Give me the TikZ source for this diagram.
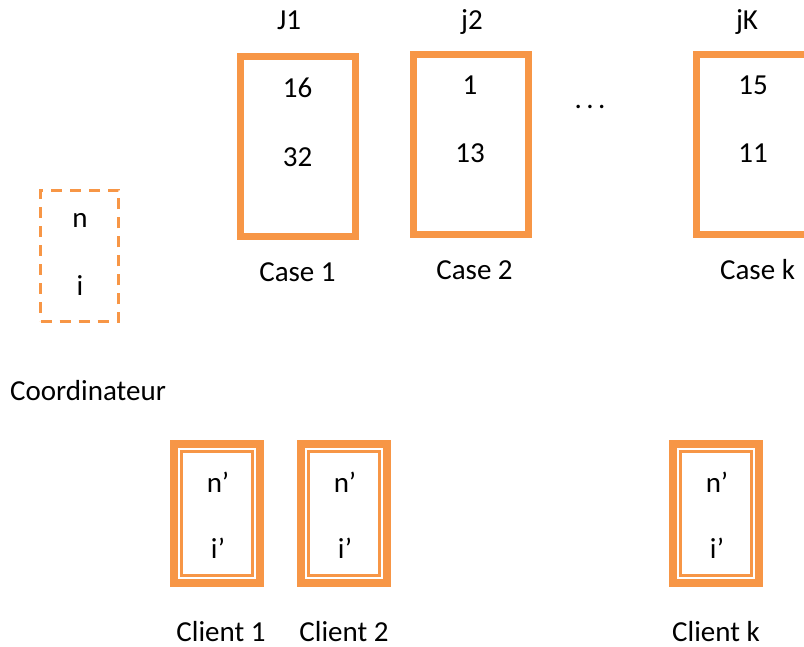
\documentclass[tikz,border=0pt]{standalone}
\usepackage{fontspec}
\setmainfont{Carlito}
\definecolor{boxorange}{HTML}{F79646}
\tikzset{
  lbl/.style={anchor=base, inner sep=0pt, font=\fontsize{29}{35}\selectfont},
  casebox/.style={draw=boxorange, line width=7pt, minimum width=115pt, minimum height=180pt, inner sep=0pt},
  coordbox/.style={draw=boxorange, line width=3pt, dash pattern=on 11pt off 8pt, minimum width=78pt, minimum height=131pt, inner sep=0pt},
  clientbox/.style={draw=boxorange, line width=8pt, minimum width=86pt, minimum height=139pt, inner sep=0pt,
    path picture={\draw[boxorange, line width=2.5pt]
      ([shift={(7.5pt,7.5pt)}]path picture bounding box.south west) rectangle
      ([shift={(-7.5pt,-7.5pt)}]path picture bounding box.north east);}}
}
\begin{document}
\begin{tikzpicture}[x=1pt,y=-1pt]
\useasboundingbox (0,0) rectangle (804,647);
% cases
\node[casebox] (case1) at (297.5,147) {};
\node[casebox] (case2) at (470.5,144.5) {};
\node[casebox] (casek) at (753.5,144.5) {};
\node[lbl] (j1) at (289,30) {J1};
\node[lbl] (j2) at (472,30) {j2};
\node[lbl] (jk) at (747,30) {jK};
\node[lbl] (v1a) at (297.5,98) {16};
\node[lbl] (v1b) at (297.5,167) {32};
\node[lbl] (v2a) at (470,95) {1};
\node[lbl] (v2b) at (470,163) {13};
\node[lbl] (vka) at (753,95) {15};
\node[lbl] (vkb) at (753,163) {11};
\node[lbl] (dots) at (590,109) {.\kern4.5pt.\kern4.5pt.};
\node[lbl] (lcase1) at (297.5,282) {Case 1};
\node[lbl] (lcase2) at (474.5,280) {Case 2};
\node[lbl] (lcasek) at (757.5,280) {Case k};
% coordinateur
\node[coordbox] (coord) at (79.5,256) {};
\node[lbl] (cn) at (80,228) {n};
\node[lbl] (ci) at (80,296) {i};
\node[lbl, anchor=base west] (lcoord) at (10,400) {Coordinateur};
% clients
\foreach \nm/\x/\lx/\t in {1/217/221/Client 1, 2/344/344/Client 2, k/716/716/Client k}{
  \node[clientbox] (client\nm) at (\x,513.5) {};
  \node[lbl] (n\nm) at (\x+1,492) {n’};
  \node[lbl] (i\nm) at (\x+1,558) {i’};
  \node[lbl] (lclient\nm) at (\lx,641) {\t};
}
\end{tikzpicture}
\end{document}
